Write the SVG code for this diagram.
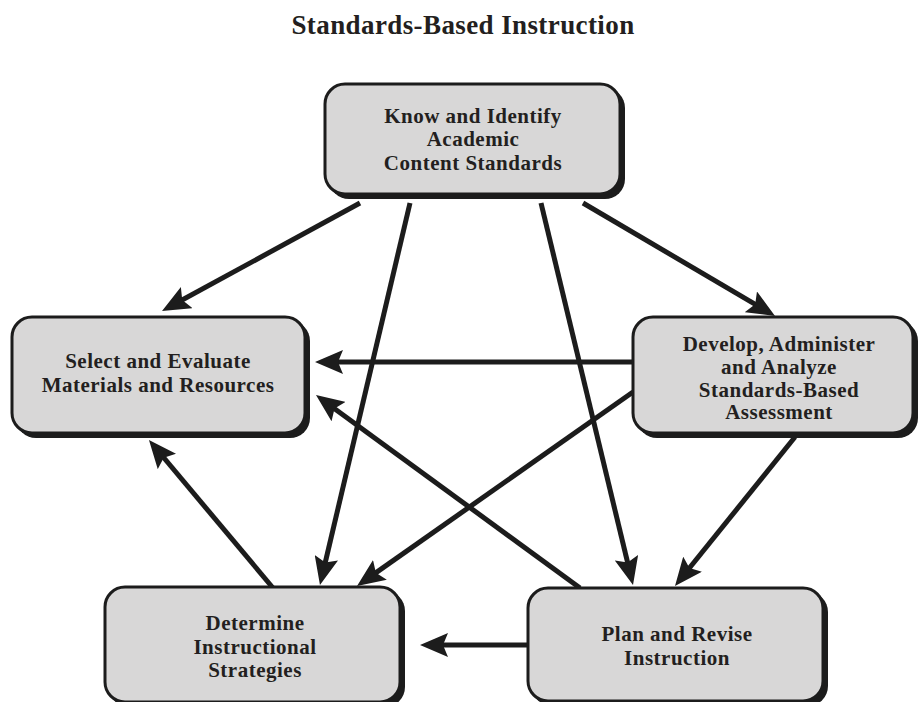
<svg xmlns="http://www.w3.org/2000/svg" width="920" height="702" viewBox="0 0 920 702">
<style>
.sh{fill:#1c1c1c}
.bx{fill:#d8d7d7;stroke:#1c1c1c;stroke-width:3}
.t{font-family:"Liberation Serif","Times New Roman",serif;font-weight:bold;font-size:21px;letter-spacing:0.5px;fill:#231f20;text-anchor:middle}
.ttl{font-family:"Liberation Serif","Times New Roman",serif;font-weight:bold;font-size:27px;letter-spacing:0.4px;fill:#231f20;text-anchor:middle}
.c line{stroke:#1c1c1c;stroke-width:5;marker-end:url(#ah)}
</style>
<defs>
<marker id="ah" viewBox="0 0 28 24" refX="13" refY="12" markerWidth="28" markerHeight="24" markerUnits="userSpaceOnUse" orient="auto">
<path d="M0,0 L28,12 L0,24 L5,12 z" fill="#1c1c1c"/>
</marker>
</defs>
<rect width="920" height="702" fill="#ffffff"/>
<text class="ttl" x="463" y="34">Standards-Based Instruction</text>
<g id="connectors" class="c">
<line x1="360" y1="203" x2="175.2" y2="303.8"/>
<line x1="583" y1="203" x2="762.1" y2="308.4"/>
<line x1="410" y1="203" x2="323.4" y2="570.4"/>
<line x1="541" y1="203" x2="629.5" y2="570.4"/>
<line x1="633" y1="362" x2="330" y2="362"/>
<line x1="633" y1="392" x2="369.3" y2="577.4"/>
<line x1="795" y1="437" x2="684.4" y2="574.3"/>
<line x1="580" y1="588" x2="328.1" y2="403.9"/>
<line x1="273" y1="588" x2="158.6" y2="451.5"/>
<line x1="528" y1="645" x2="435" y2="645"/>
</g>
<g id="know">
<rect class="sh" x="329" y="88" width="296" height="111" rx="20"/>
<rect class="bx" x="325" y="84" width="295" height="110" rx="20"/>
<text class="t" x="473" y="123">Know and Identify</text>
<text class="t" x="473" y="146">Academic</text>
<text class="t" x="473" y="170">Content Standards</text>
</g>
<g id="select">
<rect class="sh" x="16" y="321" width="294" height="117" rx="20"/>
<rect class="bx" x="12" y="317" width="293" height="116" rx="20"/>
<text class="t" x="158" y="368">Select and Evaluate</text>
<text class="t" x="158" y="392">Materials and Resources</text>
</g>
<g id="develop">
<rect class="sh" x="637" y="321" width="281" height="117" rx="20"/>
<rect class="bx" x="633" y="317" width="280" height="116" rx="20"/>
<text class="t" x="779" y="351">Develop, Administer</text>
<text class="t" x="779" y="374">and Analyze</text>
<text class="t" x="779" y="397">Standards-Based</text>
<text class="t" x="779" y="419">Assessment</text>
</g>
<g id="determine">
<rect class="sh" x="109" y="591" width="296" height="116" rx="20"/>
<rect class="bx" x="105" y="587" width="295" height="115" rx="20"/>
<text class="t" x="255" y="630">Determine</text>
<text class="t" x="255" y="654">Instructional</text>
<text class="t" x="255" y="677">Strategies</text>
</g>
<g id="plan">
<rect class="sh" x="532" y="592" width="296" height="114" rx="20"/>
<rect class="bx" x="528" y="588" width="295" height="113" rx="20"/>
<text class="t" x="677" y="641">Plan and Revise</text>
<text class="t" x="677" y="665">Instruction</text>
</g>
</svg>
